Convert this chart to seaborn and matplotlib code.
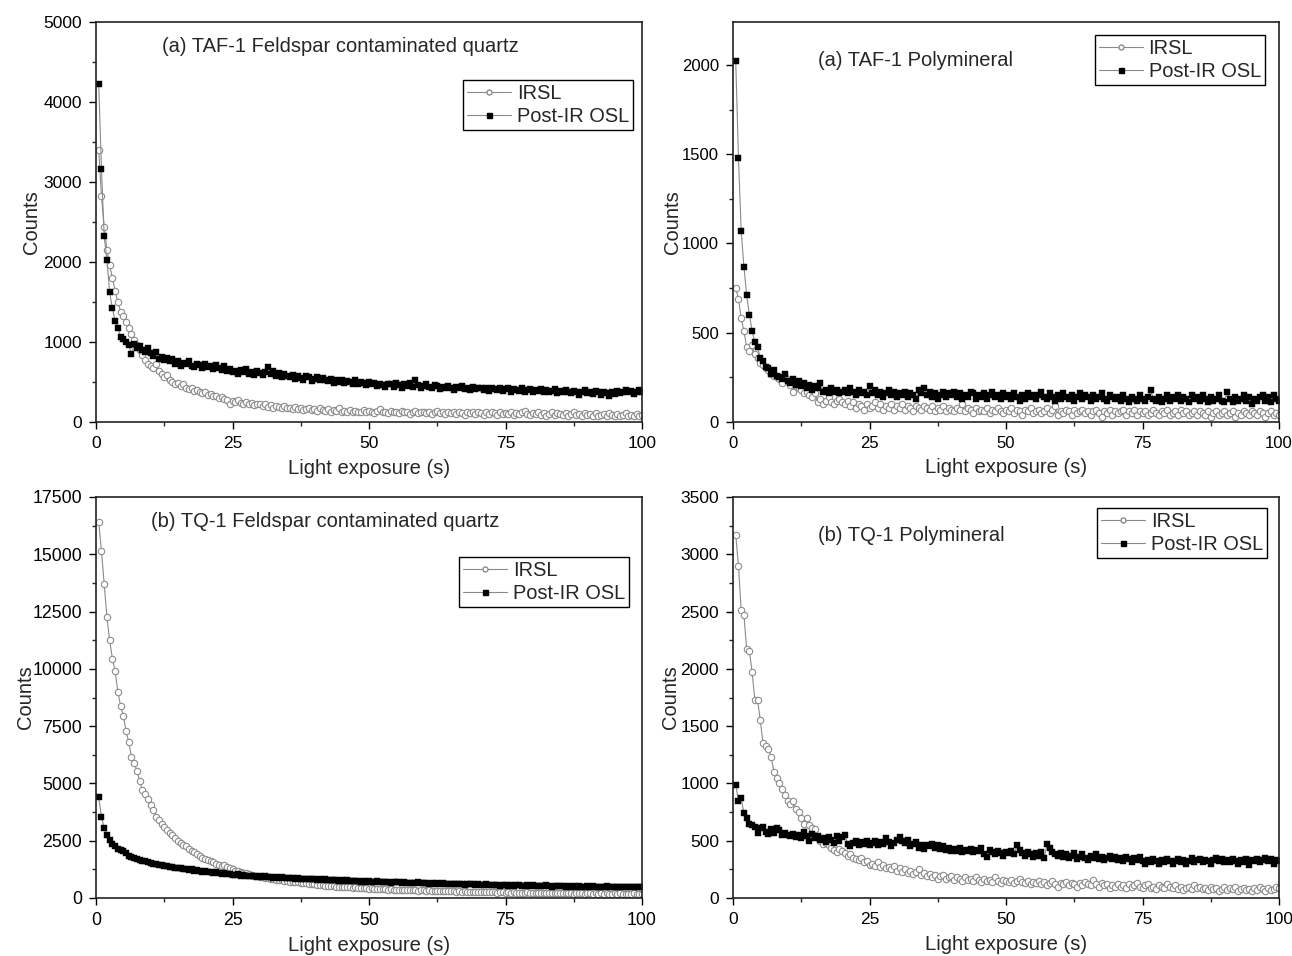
import numpy as np
import pandas as pd
import matplotlib
matplotlib.use("Agg")
import matplotlib.pyplot as plt
from matplotlib.ticker import MultipleLocator
from matplotlib.lines import Line2D
import seaborn as sns

# ---------------- data (0.5 s channels) ----------------
time_s = np.arange(1, 201) * 0.5

taf_fcq_irsl = [
    3400, 2820, 2440, 2150, 1960, 1800, 1640, 1500, 1380, 1320,
    1250, 1170, 1100, 1030, 960, 900, 840, 780, 730, 700,
    680, 720, 640, 600, 560, 590, 520, 500, 470, 490,
    450, 470, 430, 410, 420, 390, 400, 370, 360, 380,
    340, 350, 320, 330, 300, 310, 290, 280, 230, 260,
    250, 270, 240, 230, 250, 220, 240, 210, 230, 220,
    200, 220, 190, 210, 180, 200, 190, 170, 200, 180,
    170, 160, 190, 160, 170, 150, 160, 180, 150, 160,
    140, 170, 150, 140, 160, 130, 150, 140, 170, 130,
    140, 120, 150, 130, 140, 120, 130, 150, 120, 140,
    130, 110, 140, 160, 120, 130, 110, 140, 120, 130,
    110, 140, 120, 130, 100, 120, 140, 110, 130, 120,
    110, 130, 100, 120, 140, 110, 120, 100, 130, 110,
    120, 100, 130, 110, 90, 120, 110, 130, 100, 120,
    110, 90, 120, 100, 130, 110, 90, 120, 100, 110,
    100, 120, 90, 110, 100, 130, 140, 100, 90, 110,
    100, 120, 90, 110, 80, 100, 120, 90, 110, 100,
    90, 110, 80, 100, 120, 90, 100, 80, 110, 90,
    100, 80, 110, 70, 90, 100, 80, 110, 90, 80,
    100, 70, 90, 110, 80, 90, 70, 100, 80, 90,
]
taf_fcq_osl = [
    4220, 3160, 2320, 2020, 1620, 1420, 1260, 1180, 1060, 1040,
    1000, 960, 850, 970, 930, 950, 900, 880, 920, 860,
    830, 880, 790, 810, 780, 800, 760, 790, 730, 760,
    700, 740, 720, 760, 700, 690, 730, 710, 680, 720,
    690, 700, 660, 710, 680, 650, 700, 640, 660, 620,
    640, 600, 650, 620, 660, 600, 630, 590, 640, 610,
    590, 620, 690, 600, 640, 580, 610, 560, 600, 570,
    560, 590, 540, 580, 550, 530, 570, 560, 510, 540,
    560, 520, 550, 530, 510, 540, 490, 520, 500, 530,
    490, 510, 500, 480, 520, 470, 500, 490, 460, 500,
    470, 490, 450, 480, 460, 440, 480, 470, 440, 490,
    460, 430, 470, 450, 490, 440, 520, 460, 430, 450,
    470, 440, 420, 460, 450, 410, 440, 420, 450, 430,
    400, 440, 420, 450, 410, 430, 400, 440, 410, 420,
    430, 400, 420, 390, 430, 410, 400, 420, 390, 410,
    420, 380, 410, 400, 390, 420, 380, 400, 410, 380,
    400, 390, 410, 370, 400, 380, 390, 410, 360, 390,
    370, 400, 380, 360, 390, 370, 340, 380, 400, 360,
    380, 350, 390, 370, 340, 380, 360, 330, 370, 350,
    390, 360, 380, 400, 370, 390, 350, 380, 400, 380,
]

taf_poly_irsl = [
    750, 690, 580, 510, 420, 400, 430, 380, 360, 330,
    320, 300, 290, 270, 260, 250, 240, 220, 250, 230,
    210, 170, 200, 190, 180, 160, 170, 150, 140, 160,
    110, 130, 100, 120, 140, 110, 100, 120, 130, 110,
    100, 120, 90, 110, 80, 100, 90, 70, 100, 80,
    90, 110, 80, 100, 70, 90, 80, 100, 70, 90,
    80, 100, 70, 90, 80, 60, 90, 80, 70, 90,
    80, 70, 90, 60, 80, 70, 90, 60, 80, 70,
    60, 80, 70, 100, 60, 80, 70, 50, 80, 60,
    70, 60, 80, 50, 70, 60, 80, 60, 50, 70,
    60, 80, 50, 70, 60, 40, 70, 60, 80, 50,
    60, 70, 50, 60, 80, 50, 70, 90, 40, 60,
    50, 70, 60, 40, 70, 50, 60, 70, 50, 60,
    40, 60, 70, 50, 30, 60, 50, 70, 40, 60,
    50, 60, 70, 40, 60, 50, 70, 40, 60, 50,
    60, 40, 50, 70, 50, 40, 60, 50, 70, 40,
    50, 60, 40, 70, 50, 60, 40, 50, 60, 40,
    60, 50, 40, 60, 30, 50, 60, 40, 50, 60,
    40, 50, 60, 30, 50, 40, 60, 50, 40, 60,
    50, 40, 60, 50, 30, 50, 60, 40, 50, 40,
]
taf_poly_osl = [
    2020, 1480, 1070, 870, 710, 600, 510, 450, 420, 360,
    340, 310, 300, 270, 290, 260, 250, 240, 270, 230,
    220, 240, 210, 230, 200, 220, 190, 210, 180, 200,
    190, 220, 170, 180, 160, 190, 170, 180, 160, 170,
    180, 160, 190, 170, 150, 180, 160, 170, 150, 200,
    160, 180, 150, 170, 140, 160, 180, 150, 170, 140,
    160, 150, 170, 140, 160, 150, 130, 180, 160, 190,
    150, 170, 140, 160, 130, 150, 170, 140, 160, 150,
    170, 140, 160, 130, 150, 140, 170, 160, 130, 150,
    140, 160, 130, 150, 170, 140, 150, 130, 160, 140,
    150, 130, 160, 140, 120, 150, 130, 160, 140, 150,
    130, 150, 170, 140, 130, 160, 140, 120, 150, 130,
    160, 140, 130, 150, 120, 140, 160, 130, 150, 140,
    120, 150, 130, 140, 160, 130, 120, 150, 140, 130,
    140, 120, 150, 130, 110, 140, 130, 120, 150, 130,
    120, 140, 180, 130, 120, 140, 110, 130, 150, 120,
    140, 130, 150, 120, 140, 130, 110, 150, 130, 140,
    120, 150, 130, 110, 140, 120, 130, 150, 120, 110,
    170, 130, 110, 140, 120, 130, 150, 120, 140, 100,
    130, 120, 140, 150, 120, 140, 110, 150, 130, 120,
]

tq_fcq_irsl = [
    16400, 15150, 13700, 12250, 11250, 10450, 9900, 9000, 8400, 7950,
    7300, 6800, 6150, 5900, 5550, 5100, 4700, 4550, 4300, 4050,
    3850, 3550, 3400, 3250, 3100, 2950, 2850, 2750, 2600, 2500,
    2400, 2300, 2250, 2150, 2050, 2000, 1900, 1850, 1750, 1700,
    1650, 1600, 1550, 1500, 1450, 1400, 1420, 1350, 1300, 1250,
    1200, 1180, 1150, 1100, 1080, 1050, 1000, 980, 950, 930,
    900, 880, 870, 850, 830, 800, 790, 770, 760, 740,
    720, 710, 690, 680, 660, 650, 640, 620, 600, 590,
    580, 560, 550, 540, 530, 520, 510, 500, 490, 480,
    470, 500, 460, 450, 470, 440, 430, 450, 420, 410,
    420, 400, 390, 410, 380, 390, 370, 380, 360, 370,
    350, 370, 340, 360, 330, 350, 340, 320, 340, 330,
    310, 330, 320, 300, 320, 310, 290, 310, 300, 290,
    300, 280, 290, 270, 290, 280, 260, 280, 270, 260,
    270, 250, 260, 280, 250, 260, 240, 260, 250, 240,
    250, 230, 250, 240, 220, 240, 230, 250, 220, 230,
    240, 220, 230, 210, 230, 220, 200, 220, 210, 230,
    210, 220, 200, 210, 190, 210, 200, 220, 190, 200,
    210, 190, 200, 180, 200, 190, 210, 180, 190, 200,
    180, 200, 190, 170, 190, 180, 200, 170, 190, 180,
]
tq_fcq_osl = [
    4400, 3550, 3050, 2750, 2550, 2350, 2250, 2150, 2100, 2050,
    1950, 1850, 1800, 1750, 1700, 1680, 1620, 1600, 1550, 1520,
    1500, 1480, 1450, 1420, 1400, 1380, 1350, 1370, 1330, 1300,
    1320, 1280, 1260, 1240, 1250, 1200, 1220, 1180, 1150, 1170,
    1140, 1120, 1100, 1130, 1080, 1060, 1090, 1040, 1050, 1020,
    1000, 1030, 980, 990, 960, 980, 950, 970, 930, 950,
    920, 940, 900, 930, 890, 910, 880, 900, 870, 890,
    860, 880, 850, 870, 830, 850, 820, 840, 810, 830,
    800, 820, 790, 810, 780, 800, 770, 790, 760, 780,
    750, 770, 740, 760, 730, 750, 720, 740, 710, 730,
    720, 700, 730, 690, 710, 680, 700, 670, 690, 710,
    680, 660, 690, 650, 670, 640, 660, 680, 640, 660,
    650, 630, 660, 620, 640, 610, 650, 630, 600, 620,
    610, 630, 590, 610, 580, 600, 620, 590, 570, 600,
    580, 560, 590, 570, 550, 580, 560, 540, 570, 550,
    540, 560, 530, 550, 570, 540, 520, 550, 530, 560,
    520, 540, 510, 530, 550, 520, 500, 530, 510, 540,
    510, 490, 520, 500, 530, 490, 510, 480, 500, 520,
    490, 510, 480, 500, 470, 490, 510, 480, 500, 470,
    490, 470, 500, 480, 460, 490, 470, 500, 480, 470,
]

tq_poly_irsl = [
    3170, 2900, 2510, 2470, 2170, 2160, 1970, 1730, 1730, 1550,
    1350, 1330, 1300, 1230, 1100, 1050, 1000, 950, 900, 850,
    820, 850, 780, 750, 700, 650, 700, 640, 610, 600,
    530, 500, 470, 480, 460, 440, 420, 400, 430, 410,
    390, 370, 380, 350, 340, 330, 350, 310, 320, 290,
    300, 280, 310, 270, 290, 260, 270, 250, 280, 240,
    260, 230, 250, 220, 240, 210, 230, 250, 200, 220,
    190, 210, 180, 200, 170, 190, 200, 170, 180, 190,
    160, 180, 170, 150, 180, 160, 170, 150, 180, 160,
    140, 170, 150, 160, 140, 180, 150, 130, 160, 150,
    140, 160, 130, 150, 170, 140, 130, 150, 120, 140,
    130, 150, 120, 140, 110, 130, 150, 120, 100, 130,
    120, 140, 110, 130, 120, 100, 130, 110, 140, 120,
    110, 160, 120, 100, 130, 110, 120, 90, 110, 100,
    120, 100, 110, 90, 120, 100, 110, 130, 100, 90,
    110, 120, 90, 100, 80, 110, 100, 90, 120, 100,
    90, 110, 80, 100, 70, 90, 100, 80, 110, 90,
    100, 80, 90, 70, 100, 80, 90, 60, 80, 100,
    70, 90, 80, 100, 60, 80, 90, 70, 80, 60,
    90, 70, 100, 80, 60, 90, 70, 80, 100, 90,
]
tq_poly_osl = [
    990, 850, 870, 740, 700, 650, 640, 620, 570, 610,
    620, 580, 560, 600, 570, 610, 590, 550, 570, 550,
    540, 560, 530, 550, 520, 580, 540, 500, 560, 520,
    540, 510, 520, 490, 530, 510, 480, 540, 500, 530,
    550, 470, 450, 480, 500, 460, 490, 470, 500, 460,
    480, 500, 460, 490, 470, 520, 490, 450, 480, 510,
    530, 500, 480, 510, 450, 470, 490, 440, 460, 430,
    460, 450, 470, 440, 460, 430, 450, 420, 440, 410,
    430, 410, 440, 400, 420, 410, 430, 400, 420, 410,
    440, 380, 360, 420, 400, 380, 410, 390, 370, 400,
    390, 410, 380, 460, 420, 390, 370, 400, 380, 360,
    390, 370, 400, 350, 470, 440, 400, 380, 370, 390,
    360, 380, 350, 370, 390, 340, 360, 380, 350, 330,
    370, 350, 380, 340, 360, 330, 350, 370, 340, 360,
    330, 350, 320, 360, 340, 310, 350, 330, 360, 320,
    300, 330, 310, 340, 320, 300, 330, 310, 340, 320,
    300, 320, 340, 310, 330, 300, 320, 350, 310, 330,
    340, 310, 330, 320, 300, 330, 350, 320, 340, 310,
    330, 310, 340, 320, 300, 330, 310, 340, 290, 330,
    320, 340, 310, 330, 350, 320, 340, 300, 330, 320,
]

panel_titles = [
    "(a) TAF-1 Feldspar contaminated quartz",
    "(a) TAF-1 Polymineral",
    "(b) TQ-1 Feldspar contaminated quartz",
    "(b) TQ-1 Polymineral",
]
series_labels = ["IRSL", "Post-IR OSL"]
y_max = [5000, 2240, 17500, 3500]
y_major = [1000, 500, 2500, 500]
x_ticks = [0, 25, 50, 75, 100]

# ---------------- style ----------------
sns.set_style("ticks")
plt.rcParams["font.family"] = ["Liberation Sans", "DejaVu Sans"]

fig = plt.figure(figsize=(12.92, 9.56), dpi=100)

W, H = 1292, 956
def rect(l, r, t, b):
    return [l / W, 1 - b / H, (r - l) / W, (b - t) / H]

layout = [
    dict(rect=rect(96, 642, 22, 422), data=(taf_fcq_irsl, taf_fcq_osl),
         title_xy=(0.121, 0.938), leg_xy=(0.984, 0.856), tick_fs=12.5,
         ylab_pad=2, xlab_pad=6),
    dict(rect=rect(733, 1279, 22, 422), data=(taf_poly_irsl, taf_poly_osl),
         title_xy=(0.156, 0.905), leg_xy=(0.974, 0.968), tick_fs=12,
         ylab_pad=0, xlab_pad=5),
    dict(rect=rect(96, 642, 497, 898), data=(tq_fcq_irsl, tq_fcq_osl),
         title_xy=(0.101, 0.940), leg_xy=(0.976, 0.850), tick_fs=12.8,
         ylab_pad=-2, xlab_pad=5),
    dict(rect=rect(733, 1279, 497, 898), data=(tq_poly_irsl, tq_poly_osl),
         title_xy=(0.156, 0.903), leg_xy=(0.978, 0.972), tick_fs=12.5,
         ylab_pad=0, xlab_pad=6),
]

line_gray = "#8a8a8a"

for i, spec in enumerate(layout):
    ax = fig.add_axes(spec["rect"])
    irsl, osl = spec["data"]
    df = pd.DataFrame({"t": time_s, "irsl": irsl, "osl": osl})
    sns.lineplot(data=df, x="t", y="irsl", ax=ax, color=line_gray, linewidth=0.8,
                 marker="o", markersize=4.6, markerfacecolor="white",
                 markeredgecolor="#8c8c8c", markeredgewidth=0.8, sort=False,
                 estimator=None, legend=False)
    sns.lineplot(data=df, x="t", y="osl", ax=ax, color=line_gray, linewidth=0.8,
                 marker="s", markersize=4.2, markerfacecolor="black",
                 markeredgecolor="black", markeredgewidth=0.3, sort=False,
                 estimator=None, legend=False)

    ax.set_xlim(0, 100)
    ax.set_ylim(0, y_max[i])
    ax.set_xticks(x_ticks)
    ax.xaxis.set_minor_locator(MultipleLocator(12.5))
    ax.yaxis.set_major_locator(MultipleLocator(y_major[i]))
    ax.yaxis.set_minor_locator(MultipleLocator(y_major[i] / 2))
    ax.tick_params(axis="both", which="major", direction="out", length=5,
                   width=1.0, labelsize=spec["tick_fs"], colors="black", pad=5)
    ax.tick_params(axis="both", which="minor", direction="out", length=3, width=1.0)
    ax.tick_params(top=False, right=False)
    for s in ax.spines.values():
        s.set_visible(True)
        s.set_linewidth(1.2)
        s.set_color("#222222")
    ax.set_xlabel("Light exposure (s)", fontsize=14.6, labelpad=spec["xlab_pad"])
    ax.set_ylabel("Counts", fontsize=14.5, labelpad=spec["ylab_pad"])
    ax.text(spec["title_xy"][0], spec["title_xy"][1], panel_titles[i],
            transform=ax.transAxes, fontsize=14.5, va="center", ha="left")

    handles = [
        Line2D([], [], color=line_gray, linewidth=0.8, marker="o", markersize=3.6,
               markerfacecolor="white", markeredgecolor="#8c8c8c"),
        Line2D([], [], color=line_gray, linewidth=0.8, marker="s", markersize=3.6,
               markerfacecolor="black", markeredgecolor="black"),
    ]
    leg = ax.legend(handles, series_labels, loc="upper right",
                    bbox_to_anchor=spec["leg_xy"], fontsize=14.4,
                    frameon=True, fancybox=False, framealpha=1,
                    edgecolor="black", borderpad=0.2, labelspacing=0.2,
                    handlelength=2.2, handletextpad=0.3, borderaxespad=0)
    leg.get_frame().set_linewidth(1.0)

fig.savefig("out.png", dpi=100)
